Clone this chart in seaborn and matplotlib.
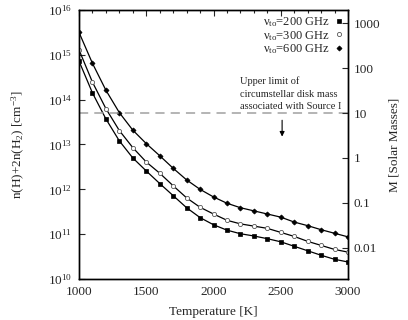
import numpy as np
import seaborn as sns
import matplotlib.pyplot as plt
from matplotlib.lines import Line2D

# temperature grid [K]
temps = [1000, 1100, 1200, 1300, 1400, 1500, 1600, 1700, 1800, 1900, 2000,
         2100, 2200, 2300, 2400, 2500, 2600, 2700, 2800, 2900, 3000]

# log10 of n(H)+2n(H2)
log_n_200 = [14.86, 14.15, 13.57, 13.08, 12.70, 12.41, 12.13, 11.86, 11.59, 11.37, 11.21,
             11.09, 11.01, 10.96, 10.90, 10.83, 10.73, 10.63, 10.53, 10.44, 10.38]
log_n_300 = [15.11, 14.39, 13.80, 13.31, 12.93, 12.61, 12.36, 12.08, 11.81, 11.60, 11.45,
             11.31, 11.23, 11.18, 11.13, 11.04, 10.95, 10.84, 10.75, 10.66, 10.60]
log_n_600 = [15.50, 14.81, 14.21, 13.71, 13.32, 13.02, 12.75, 12.47, 12.21, 12.00, 11.83,
             11.69, 11.59, 11.52, 11.45, 11.38, 11.27, 11.19, 11.10, 11.02, 10.94]

labels = [r'$\mathrm{\nu}_{\rm to}$=200 GHz', r'$\mathrm{\nu}_{\rm to}$=300 GHz',
          r'$\mathrm{\nu}_{\rm to}$=600 GHz']

mass_ticks = [1000, 100, 10, 1, 0.1, 0.01]
mass_ticklabels = ['1000', '100', '10', '1', '0.1', '0.01']
mass_per_n = 2e-13      # M [Msun] per unit n
disk_limit = 10         # Msun

sns.set_style('white')
plt.rcParams['font.family'] = ['Liberation Serif', 'DejaVu Serif']
plt.rcParams['mathtext.fontset'] = 'custom'
plt.rcParams['mathtext.rm'] = 'Liberation Serif'
plt.rcParams['mathtext.it'] = 'Liberation Serif:italic'
plt.rcParams['font.size'] = 9.5

fig = plt.figure(figsize=(4.08, 3.2), dpi=100)
ax = fig.add_axes([0.1936, 0.128, 0.6594, 0.841])

styles = [
    dict(marker='s', markersize=2.8, markerfacecolor='black', markeredgecolor='black', markeredgewidth=0.5),
    dict(marker='o', markersize=3.0, markerfacecolor='white', markeredgecolor='#555555', markeredgewidth=0.6),
    dict(marker='D', markersize=2.6, markerfacecolor='black', markeredgecolor='black', markeredgewidth=0.5),
]
series = [log_n_200, log_n_300, log_n_600]
for vals, st in zip(series, styles):
    sns.lineplot(x=temps, y=10 ** np.array(vals), ax=ax, color='black', lw=0.9, **st)

ax.set_yscale('log')
ax.set_xlim(1000, 3000)
ax.set_ylim(1e10, 1e16)
ax.set_xticks([1000, 1500, 2000, 2500, 3000])
ax.set_xticks(np.arange(1000, 3001, 100), minor=True)
ax.yaxis.set_minor_locator(plt.NullLocator())
ax.tick_params(which='both', direction='in', top=True, right=False, labelsize=9.5, width=0.8, pad=5)
ax.tick_params(which='major', length=4)
ax.tick_params(which='minor', length=2)
ax.set_xlabel('Temperature [K]', fontsize=9.5, labelpad=6)
ax.set_ylabel(r'n(H)+2n(H$_2$) [cm$^{-3}$]', fontsize=9.5, labelpad=15)
for s in ax.spines.values():
    s.set_linewidth(1.0)
    s.set_color('black')

# upper limit of disk mass
n_lim = disk_limit / mass_per_n
ax.axhline(n_lim, color='#a0a0a0', lw=1.1, dashes=(6, 4))
ax.text(2200, n_lim * 1.1, 'Upper limit of\ncircumstellar disk mass\nassociated with Source I',
        fontsize=7.5, ha='left', va='bottom', linespacing=1.5)
ax.annotate('', xy=(2510, 1.3e13), xytext=(2510, 4.0e13),
            arrowprops=dict(arrowstyle='-|>', color='black', lw=0.8, mutation_scale=7))

handles = [Line2D([], [], ls='none', color='black', **st) for st in styles]
ax.legend(handles, labels, loc='upper right', frameon=False, markerfirst=False,
          handlelength=0.6, handletextpad=0.4, labelspacing=-0.05, fontsize=9,
          bbox_to_anchor=(1.0, 1.0), borderaxespad=0.25, borderpad=0.2)

# right axis: disk mass
ax2 = ax.twinx()
ax2.set_yscale('log')
ax2.set_ylim(1e10 * mass_per_n, 1e16 * mass_per_n)
ax2.set_yticks(mass_ticks)
ax2.set_yticklabels(mass_ticklabels)
ax2.yaxis.set_minor_locator(plt.NullLocator())
ax2.tick_params(which='both', direction='in', labelsize=9.5, length=4, width=0.8, pad=4)
ax2.set_ylabel('M [Solar Masses]', fontsize=9.5, labelpad=6)
for s in ax2.spines.values():
    s.set_linewidth(1.0)
    s.set_color('black')

fig.savefig('out.png', dpi=100)
